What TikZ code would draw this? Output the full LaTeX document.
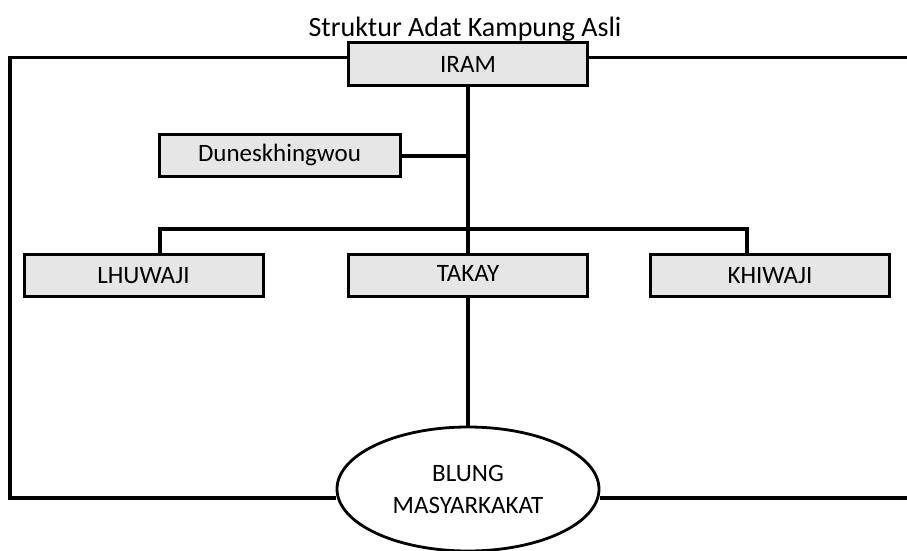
\documentclass[tikz,border=0pt]{standalone}
\usepackage{fontspec}
\setmainfont{Carlito}
\usetikzlibrary{shapes.geometric}
\definecolor{boxgray}{RGB}{230,230,230}
\begin{document}
\begin{tikzpicture}[x=1pt,y=-1pt,
  box/.style={draw=black,line width=3pt,fill=boxgray,minimum width=239pt,minimum height=42pt,inner sep=0pt,font=\fontsize{25}{28}\selectfont},
  oval/.style={draw=black,line width=2.8pt,fill=white,ellipse,minimum width=262pt,minimum height=124pt,inner sep=0pt,align=center,font=\fontsize{25}{32}\selectfont},
  conn/.style={line width=3.1pt}]
\useasboundingbox (0,0) rectangle (907,551);
\node[font=\fontsize{28}{32}\selectfont,anchor=base] (title) at (465,37) {Struktur Adat Kampung Asli};
\node[box] (iram) at (468,64) {IRAM};
\node[box,minimum width=241pt] (dune) at (279.5,155) {Duneskhingwou};
\node[box] (lhuwaji) at (143.5,275.5) {LHUWAJI};
\node[box] (takay) at (468,275) {\raisebox{3.5pt}{TAKAY}};
\node[box] (khiwaji) at (770,275.5) {KHIWAJI};
\node[oval] (blung) at (468,489) {BLUNG\\MASYARKAKAT};
\coordinate (tl) at (10,57.5);
\coordinate (tr) at (907,57.5);
\coordinate (bl) at (10,498);
\coordinate (br) at (907,498);
\coordinate (barl) at (160,229);
\coordinate (barr) at (747,229);
\coordinate (dj) at (468,156);
\draw[conn] (iram.west |- tl) -- (tl) -- (bl) -- (bl -| blung.west);
\draw[conn] (iram.east |- tr) -- (tr);
\draw[conn] (blung.east |- br) -- (br);
\draw[conn] (iram.south) -- (takay.north);
\draw[conn] (dune.east |- dj) -- (dj);
\draw[conn] (lhuwaji.north -| barl) -- (barl) -- (barr) -- (khiwaji.north -| barr);
\draw[conn] (takay.south) -- (blung.north);
\end{tikzpicture}
\end{document}
